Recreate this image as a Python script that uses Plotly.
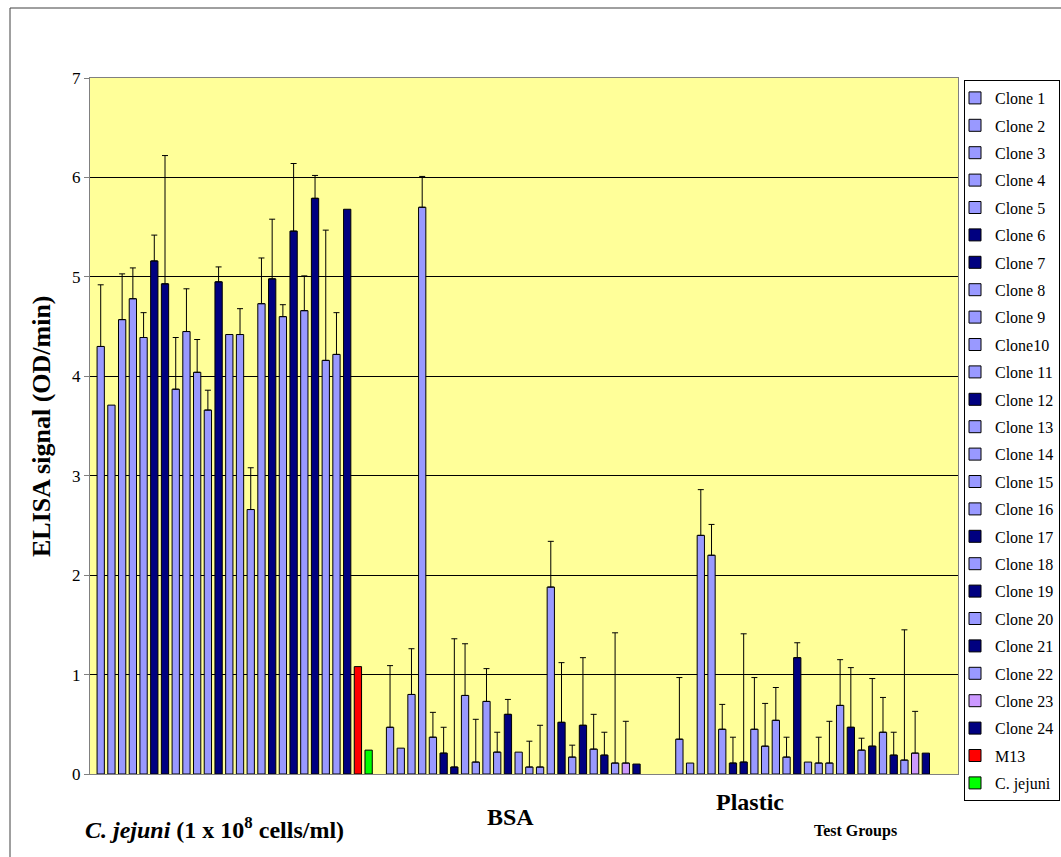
import plotly.graph_objects as go

groups = ["C. jejuni", "BSA", "Plastic"]
series_names = ["Clone 1", "Clone 2", "Clone 3", "Clone 4", "Clone 5", "Clone 6",
                "Clone 7", "Clone 8", "Clone 9", "Clone10", "Clone 11", "Clone 12",
                "Clone 13", "Clone 14", "Clone 15", "Clone 16", "Clone 17", "Clone 18",
                "Clone 19", "Clone 20", "Clone 21", "Clone 22", "Clone 23", "Clone 24",
                "M13", "C. jejuni"]

cj_values = [4.30, 3.71, 4.57, 4.78, 4.39, 5.16, 4.93, 3.87, 4.45, 4.04, 3.66, 4.95,
             4.42, 4.42, 2.66, 4.73, 4.98, 4.60, 5.46, 4.66, 5.79, 4.16, 4.22, 5.68,
             1.08, 0.24]
bsa_values = [0.47, 0.26, 0.80, 5.70, 0.37, 0.21, 0.07, 0.79, 0.12, 0.73, 0.22, 0.60,
              0.22, 0.07, 0.07, 1.88, 0.52, 0.17, 0.49, 0.25, 0.19, 0.11, 0.11, 0.10,
              None, None]
plastic_values = [0.35, 0.11, 2.40, 2.20, 0.45, 0.11, 0.12, 0.45, 0.28, 0.54, 0.17, 1.17,
                  0.12, 0.11, 0.11, 0.69, 0.47, 0.24, 0.28, 0.42, 0.19, 0.14, 0.21, 0.21,
                  None, None]
error_plus = [0.62, None, 0.46, 0.31, 0.25, 0.26, 1.29, 0.52, 0.43, 0.33, 0.20, 0.15,
              None, 0.26, 0.42, 0.46, 0.60, 0.12, 0.68, 0.35, 0.23, 1.31, 0.42, None,
              None, None]

LIGHT = "#9999FF"
DARK = "#000080"
PINK = "#CC99FF"
RED = "#FF0000"
GREEN = "#00FF00"
series_colors = [LIGHT, LIGHT, LIGHT, LIGHT, LIGHT, DARK, DARK, LIGHT, LIGHT, LIGHT,
                 LIGHT, DARK, LIGHT, LIGHT, LIGHT, LIGHT, DARK, LIGHT, DARK, LIGHT,
                 DARK, LIGHT, PINK, DARK, RED, GREEN]
# colour used in the first group (C. jejuni) where it differs
first_group_colors = list(series_colors)
first_group_colors[22] = LIGHT

SERIF = "Liberation Serif, Times New Roman, serif"

fig = go.Figure()


def make_err(e, n):
    if e is None:
        return dict(visible=False)
    return dict(type="data", symmetric=False, array=[e] * n, arrayminus=[0] * n,
                color="black", thickness=1, width=3)


for i, name in enumerate(series_names):
    vals = [cj_values[i], bsa_values[i], plastic_values[i]]
    common = dict(offsetgroup=str(i), legendgroup=name,
                  marker_line=dict(color="black", width=1))
    if first_group_colors[i] == series_colors[i]:
        fig.add_trace(go.Bar(x=groups, y=vals, name=name,
                             marker_color=series_colors[i],
                             error_y=make_err(error_plus[i], 3), **common))
    else:
        fig.add_trace(go.Bar(x=groups, y=[None, vals[1], vals[2]], name=name,
                             marker_color=series_colors[i],
                             error_y=make_err(error_plus[i], 3), **common))
        fig.add_trace(go.Bar(x=groups, y=[vals[0], None, None], name=name,
                             showlegend=False, marker_color=first_group_colors[i],
                             error_y=make_err(error_plus[i], 3), **common))

L, R, T, B = 90, 103, 78, 83
W, H = 1061, 857
pw, ph = W - L - R, H - T - B


def px(xp):
    return (xp - L) / pw


def py(yp):
    return (H - B - yp) / ph


fig.update_layout(
    width=W, height=H,
    margin=dict(l=L, r=R, t=T, b=B, autoexpand=False),
    paper_bgcolor="white",
    plot_bgcolor="#FFFF99",
    barmode="group",
    bargap=0.037,
    bargroupgap=0.32,
    font=dict(family=SERIF, color="black", size=16),
    showlegend=True,
    legend=dict(
        x=px(964), y=py(80), xanchor="left", yanchor="top",
        bgcolor="white", bordercolor="black", borderwidth=1,
        font=dict(family=SERIF, size=16, color="black"),
        traceorder="grouped", tracegroupgap=3.6,
    ),
    xaxis=dict(showticklabels=False, ticks="", showgrid=False,
               showline=True, linecolor="#808080", linewidth=1, mirror=True,
               zeroline=False),
    yaxis=dict(range=[0, 7], dtick=1, showgrid=True, gridcolor="black", gridwidth=1,
               ticks="outside", ticklen=5, tickcolor="#808080",
               showline=True, linecolor="#808080", linewidth=1, mirror=True,
               zeroline=False, tickfont=dict(family=SERIF, size=17, color="black")),
)
for key, val in (("legend_maxheight", 780), ("legend_indentation", -10)):
    try:
        fig.update_layout(**{key: val})
    except Exception:
        pass

annotations = [
    dict(text="<b>ELISA signal (OD/min)</b>", x=px(41), y=py(426), textangle=-90,
         font=dict(size=26)),
    dict(text="<b><i>C. jejuni</i> (1 x 10<sup>8</sup> cells/ml)</b>", x=px(83), y=py(828),
         xanchor="left", font=dict(size=24)),
    dict(text="<b>BSA</b>", x=px(510), y=py(817), font=dict(size=24)),
    dict(text="<b>Plastic</b>", x=px(750), y=py(802), font=dict(size=24)),
    dict(text="<b>Test Groups</b>", x=px(855), y=py(831), font=dict(size=16)),
]
for a in annotations:
    a.setdefault("xanchor", "center")
    a.update(xref="paper", yref="paper", yanchor="middle", showarrow=False)
    a["font"] = dict(family=SERIF, color="black", **a["font"])
fig.update_layout(annotations=annotations)

fig.add_shape(type="rect", xref="paper", yref="paper",
              x0=px(10), y0=py(8), x1=px(1100), y1=py(900),
              line=dict(color="#404040", width=1), fillcolor="rgba(0,0,0,0)",
              layer="below")

fig.write_html("out.html")
